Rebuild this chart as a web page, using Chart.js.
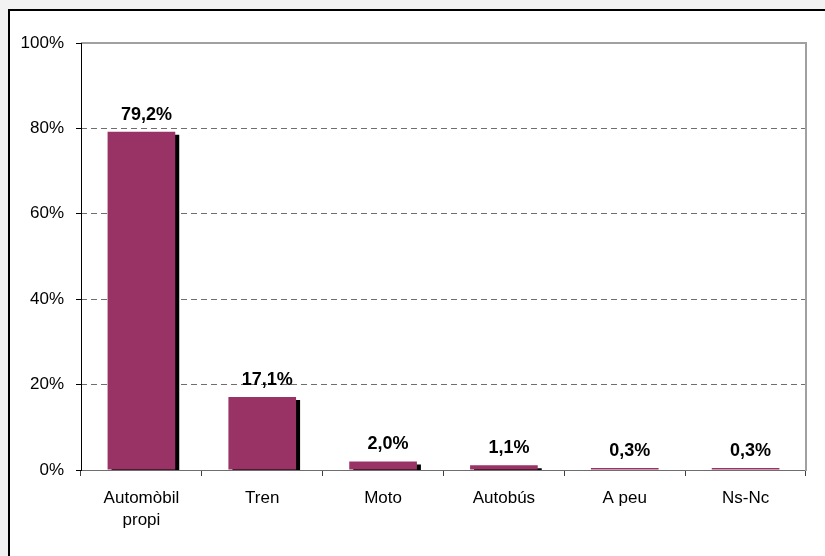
<!DOCTYPE html>
<html>
<head>
<meta charset="utf-8">
<script src="https://cdn.jsdelivr.net/npm/chart.js@4.4.0/dist/chart.umd.min.js"></script>
<style>
  body { margin: 0; background: #f2f2f2; }
  canvas { display: block; }
</style>
</head>
<body>
<canvas id="chart" width="825" height="556"></canvas>
<script>
const categories = [['Automòbil', 'propi'], 'Tren', 'Moto', 'Autobús', 'A peu', 'Ns-Nc'];
const shares = [79.2, 17.1, 2.0, 1.1, 0.3, 0.3];
const yTickLabels = ['0%', '20%', '40%', '60%', '80%', '100%'];

const fontFamily = '"Liberation Sans", Arial, sans-serif';

// page background with the framed white box of the original sheet
const sheetBackground = {
    id: 'sheetBackground',
    beforeDraw(chart) {
        const ctx = chart.ctx;
        ctx.save();
        ctx.fillStyle = '#f2f2f2';
        ctx.fillRect(0, 0, chart.width, chart.height);
        ctx.fillStyle = '#ffffff';
        ctx.fillRect(8, 9, chart.width, chart.height);
        ctx.strokeStyle = '#000000';
        ctx.lineWidth = 2;
        ctx.beginPath();
        ctx.moveTo(9, chart.height);
        ctx.lineTo(9, 10);
        ctx.lineTo(chart.width, 10);
        ctx.stroke();
        ctx.restore();
    }
};

// bottom axis line under the bars, then a black drop shadow behind each bar
const barShadow = {
    id: 'barShadow',
    beforeDatasetsDraw(chart) {
        const ctx = chart.ctx;
        const a = chart.chartArea;
        ctx.save();
        ctx.lineWidth = 1;
        ctx.strokeStyle = '#6e6e6e';
        ctx.beginPath();
        ctx.moveTo(a.left, a.bottom + 0.5);
        ctx.lineTo(a.right, a.bottom + 0.5);
        ctx.stroke();
        ctx.restore();

        ctx.save();
        ctx.shadowColor = '#000000';
        ctx.shadowBlur = 0;
        ctx.shadowOffsetX = 4;
        ctx.shadowOffsetY = 3;
    },
    afterDatasetsDraw(chart) {
        chart.ctx.restore();
    }
};

// plot frame and value labels
const frameAndLabels = {
    id: 'frameAndLabels',
    afterDatasetsDraw(chart) {
        const ctx = chart.ctx;
        const a = chart.chartArea;
        ctx.save();
        ctx.lineWidth = 2;
        ctx.strokeStyle = '#a0a0a0';
        ctx.beginPath();
        ctx.moveTo(a.left, a.top);
        ctx.lineTo(a.right, a.top);
        ctx.lineTo(a.right, a.bottom + 1);
        ctx.stroke();
        ctx.lineWidth = 1;
        ctx.strokeStyle = '#000000';
        ctx.beginPath();
        ctx.moveTo(a.left + 0.5, a.top);
        ctx.lineTo(a.left + 0.5, a.bottom + 1);
        ctx.stroke();

        ctx.fillStyle = '#000000';
        ctx.font = 'bold 18px ' + fontFamily;
        ctx.textAlign = 'center';
        ctx.textBaseline = 'alphabetic';
        chart.getDatasetMeta(0).data.forEach((bar, i) => {
            const text = shares[i].toFixed(1).replace('.', ',') + '%';
            ctx.fillText(text, bar.x + 5, bar.y - 12);
        });
        ctx.restore();
    }
};

new Chart(document.getElementById('chart'), {
    type: 'bar',
    data: {
        labels: categories,
        datasets: [{
            data: shares,
            backgroundColor: '#993366',
            borderWidth: 0,
            barPercentage: 0.56,
            categoryPercentage: 1,
            minBarLength: 2,
            clip: 0
        }]
    },
    options: {
        responsive: false,
        animation: false,
        layout: {
            padding: { left: 0, top: 43, right: 19, bottom: 0 }
        },
        plugins: {
            legend: { display: false },
            tooltip: { enabled: false }
        },
        scales: {
            x: {
                afterFit(scale) { scale.height = 86; },
                grid: {
                    offset: true,
                    drawOnChartArea: false,
                    drawTicks: true,
                    tickLength: 6,
                    tickColor: '#404040'
                },
                border: { display: false },
                ticks: {
                    padding: 11,
                    color: '#000000',
                    maxRotation: 0,
                    font: { family: fontFamily, size: 17, lineHeight: 1.3 }
                }
            },
            y: {
                min: 0,
                max: 100,
                afterFit(scale) { scale.width = 81; },
                grid: {
                    color: ctx => (ctx.tick && (ctx.tick.value === 0 || ctx.tick.value === 100)) ? 'rgba(0,0,0,0)' : '#6e6e6e',
                    tickColor: '#000000',
                    tickLength: 5,
                    tickBorderDash: []
                },
                border: { display: false, dash: [6, 4] },
                ticks: {
                    stepSize: 20,
                    padding: 12,
                    color: '#000000',
                    font: { family: fontFamily, size: 17 },
                    callback: (value, index) => yTickLabels[index]
                }
            }
        }
    },
    plugins: [sheetBackground, barShadow, frameAndLabels]
});
</script>
</body>
</html>
